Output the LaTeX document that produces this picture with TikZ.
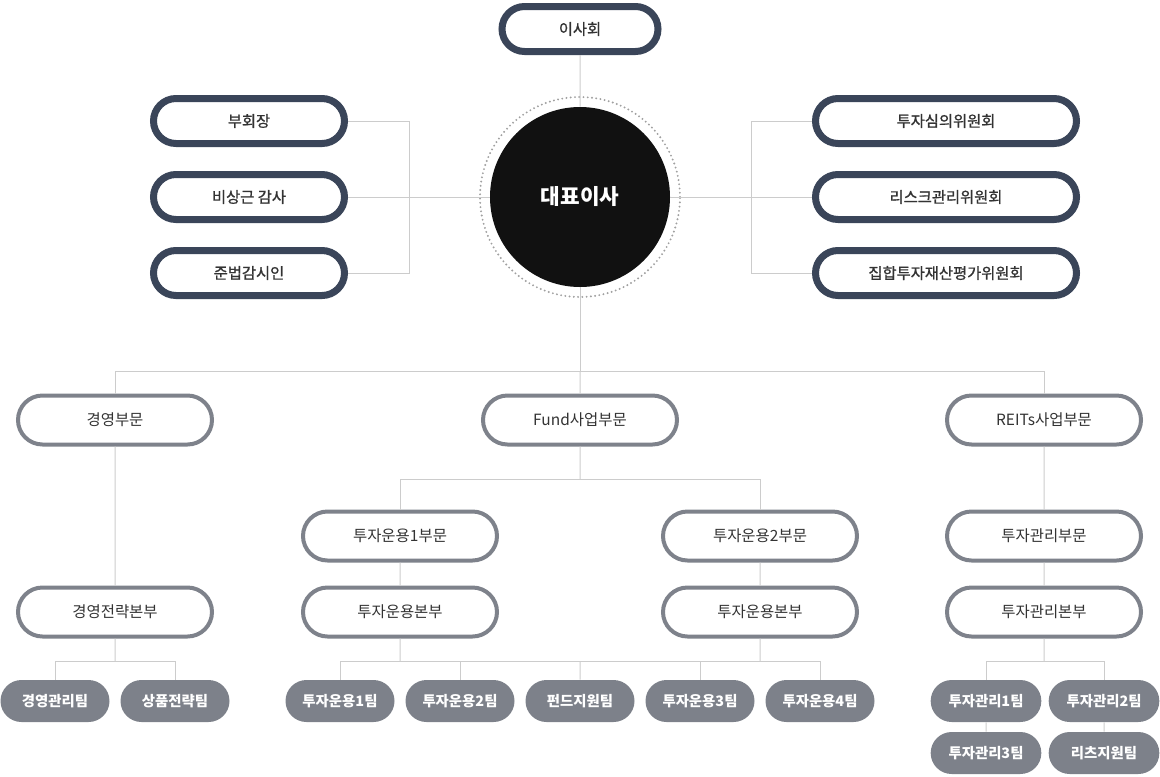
\documentclass[tikz,border=0pt]{standalone}
\usepackage{fontspec}
\setmainfont{Noto Sans CJK KR}
\newfontfamily\krmed[FakeBold=1.0]{Noto Sans CJK KR}
\usetikzlibrary{shapes.misc}
\definecolor{navy}{HTML}{3A4559}
\definecolor{pillgray}{HTML}{7E828B}
\definecolor{teamgray}{HTML}{7D818A}
\definecolor{linegray}{HTML}{CCCCCC}
\definecolor{txt}{HTML}{333333}
\definecolor{ceofill}{HTML}{111111}
\definecolor{dotgray}{HTML}{A0A0A0}
\begin{document}
\begin{tikzpicture}[x=0.75pt,y=-0.75pt,
  topbox/.style={rounded rectangle, draw=navy, line width=5.25pt, fill=white,
    minimum height=33.75pt, text=txt, font=\fontsize{11.5pt}{13pt}\krmed, inner sep=0pt},
  levelbox/.style={rounded rectangle, draw=pillgray, line width=3pt, fill=white,
    minimum width=145.5pt, minimum height=36.75pt, text=txt, font=\fontsize{11.6pt}{13pt}\selectfont, inner sep=0pt},
  team/.style={rounded rectangle, fill=teamgray, minimum width=81.75pt, minimum height=31.5pt,
    text=white, font=\fontsize{10.8pt}{12pt}\selectfont\bfseries, inner sep=0pt},
  conn/.style={draw=linegray, line width=0.75pt},
  ceo/.style={circle, fill=ceofill, minimum size=135pt, inner sep=0pt, text=white,
    font=\fontsize{16pt}{18pt}\selectfont\bfseries},
  ring/.style={draw=dotgray, line width=1.6pt, dash pattern=on 0pt off 3.2pt, line cap=round}
]
\useasboundingbox (0,0) rectangle (1160,776);

% top level
\node[topbox, minimum width=117pt] (board) at (580,29) {이사회};
\node[ceo] (ceo) at (580,197) {대표이사};
\draw[ring] (ceo.center) circle[radius=75pt];

\node[topbox, minimum width=143.25pt] (vp) at (249,121) {부회장};
\node[topbox, minimum width=143.25pt] (audit) at (249,197) {비상근 감사};
\node[topbox, minimum width=143.25pt] (comp) at (249,273) {준법감시인};

\node[topbox, minimum width=195.75pt] (invc) at (946,121) {투자심의위원회};
\node[topbox, minimum width=195.75pt] (risk) at (946,197) {리스크관리위원회};
\node[topbox, minimum width=195.75pt] (eval) at (946,273) {집합투자재산평가위원회};

% divisions
\node[levelbox] (mgmt) at (115,420) {경영부문};
\node[levelbox] (fund) at (580,420) {Fund사업부문};
\node[levelbox] (reits) at (1044,420) {REITs사업부문};

\node[levelbox] (inv1) at (400,536) {투자운용1부문};
\node[levelbox] (inv2) at (760,536) {투자운용2부문};
\node[levelbox] (hq1) at (400,612) {투자운용본부};
\node[levelbox] (hq2) at (760,612) {투자운용본부};
\node[levelbox] (strat) at (115,612) {경영전략본부};
\node[levelbox] (imdiv) at (1044,536) {투자관리부문};
\node[levelbox] (imhq) at (1044,612) {투자관리본부};

% teams
\node[team] (mt1) at (55,701) {경영관리팀};
\node[team] (mt2) at (175,701) {상품전략팀};
\node[team] (it1) at (340,701) {투자운용1팀};
\node[team] (it2) at (460,701) {투자운용2팀};
\node[team] (fs) at (580,701) {펀드지원팀};
\node[team] (it3) at (700,701) {투자운용3팀};
\node[team] (it4) at (820,701) {투자운용4팀};
\node[team, minimum width=83pt] (rt1) at (986,701) {투자관리1팀};
\node[team, minimum width=83pt] (rt2) at (1104,701) {투자관리2팀};
\node[team, minimum width=83pt] (rt3) at (986,753) {투자관리3팀};
\node[team, minimum width=83pt] (rsup) at (1104,753) {리츠지원팀};

% junction coordinates
\coordinate (lj) at (409,197);
\coordinate (rj) at (751,197);
\coordinate (bus) at (580,371);
\coordinate (fb) at (580,479);
\coordinate (sb) at (115,661);
\coordinate (tb) at (580,661);
\coordinate (rb) at (1044,661);

% connectors
\draw[conn] (board) -- (ceo);
\draw[conn] (vp.east) -| (lj);
\draw[conn] (comp.east) -| (lj);
\draw[conn] (audit.east) -- (ceo);
\draw[conn] (invc.west) -| (rj);
\draw[conn] (eval.west) -| (rj);
\draw[conn] (ceo) -- (risk.west);

\draw[conn] (ceo) -- (bus);
\draw[conn] (bus) -| (mgmt);
\draw[conn] (bus) -- (fund);
\draw[conn] (bus) -| (reits);

\draw[conn] (fund) -- (fb);
\draw[conn] (fb) -| (inv1);
\draw[conn] (fb) -| (inv2);
\draw[conn] (inv1) -- (hq1);
\draw[conn] (inv2) -- (hq2);
\draw[conn] (mgmt) -- (strat);
\draw[conn] (reits) -- (imdiv);
\draw[conn] (imdiv) -- (imhq);

\draw[conn] (strat) -- (sb);
\draw[conn] (sb) -| (mt1);
\draw[conn] (sb) -| (mt2);

\draw[conn] (hq1) -- (hq1 |- tb);
\draw[conn] (hq2) -- (hq2 |- tb);
\draw[conn] (tb) -| (it1);
\draw[conn] (tb) -| (it2);
\draw[conn] (tb) -- (fs);
\draw[conn] (tb) -| (it3);
\draw[conn] (tb) -| (it4);

\draw[conn] (imhq) -- (rb);
\draw[conn] (rb) -| (rt1);
\draw[conn] (rb) -| (rt2);
\draw[conn] (rt1) -- (rt3);
\draw[conn] (rt2) -- (rsup);
\end{tikzpicture}
\end{document}
